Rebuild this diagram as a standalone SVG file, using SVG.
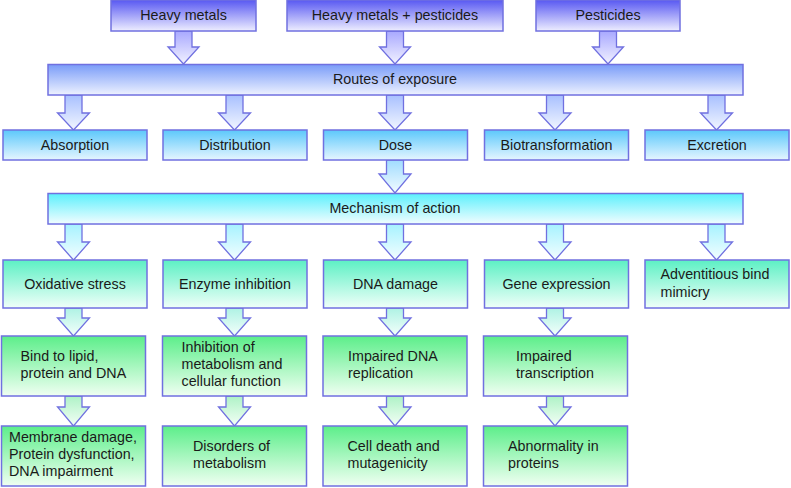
<svg xmlns="http://www.w3.org/2000/svg" width="791" height="488" viewBox="0 0 791 488">
<defs>
<linearGradient id="gBlue" x1="0" y1="0" x2="0" y2="1"><stop offset="0" stop-color="#5858f2"/><stop offset="1" stop-color="#eeeeff"/></linearGradient>
<linearGradient id="gRoute" x1="0" y1="0" x2="0" y2="1"><stop offset="0" stop-color="#7a9cf8"/><stop offset="1" stop-color="#eef2ff"/></linearGradient>
<linearGradient id="gSky" x1="0" y1="0" x2="0" y2="1"><stop offset="0" stop-color="#5cc8fb"/><stop offset="1" stop-color="#e6f6ff"/></linearGradient>
<linearGradient id="gCyan" x1="0" y1="0" x2="0" y2="1"><stop offset="0" stop-color="#5cf0fc"/><stop offset="1" stop-color="#f2fdff"/></linearGradient>
<linearGradient id="gTeal" x1="0" y1="0" x2="0" y2="1"><stop offset="0" stop-color="#5cf0c4"/><stop offset="1" stop-color="#f0fff9"/></linearGradient>
<linearGradient id="gGreen" x1="0" y1="0" x2="0" y2="1"><stop offset="0" stop-color="#5cee8a"/><stop offset="1" stop-color="#f0fff2"/></linearGradient>
<linearGradient id="aBlue" x1="0" y1="0" x2="0" y2="1"><stop offset="0" stop-color="#a8a8ff"/><stop offset="1" stop-color="#f2f2ff"/></linearGradient>
<linearGradient id="aRoute" x1="0" y1="0" x2="0" y2="1"><stop offset="0" stop-color="#a8c0ff"/><stop offset="1" stop-color="#f2f6ff"/></linearGradient>
<linearGradient id="aSky" x1="0" y1="0" x2="0" y2="1"><stop offset="0" stop-color="#a0dcff"/><stop offset="1" stop-color="#f2fbff"/></linearGradient>
<linearGradient id="aCyan" x1="0" y1="0" x2="0" y2="1"><stop offset="0" stop-color="#a6f2ff"/><stop offset="1" stop-color="#f4feff"/></linearGradient>
<linearGradient id="aTeal" x1="0" y1="0" x2="0" y2="1"><stop offset="0" stop-color="#aef2e4"/><stop offset="1" stop-color="#f4fffb"/></linearGradient>
<linearGradient id="aGreen" x1="0" y1="0" x2="0" y2="1"><stop offset="0" stop-color="#aef2c6"/><stop offset="1" stop-color="#f4fff6"/></linearGradient>
</defs>
<style>
rect{stroke:#7070e0;stroke-width:1.5}
polygon{stroke:#7070e0;stroke-width:1.3;stroke-linejoin:miter}
text{font-family:"Liberation Sans",Arial,sans-serif;font-size:14.3px;fill:#1a1a1a}
.c{text-anchor:middle}
</style>
<g id="connectors">
<polygon fill="url(#aBlue)" points="175,31 192,31 192,47 199,47 183.5,64 168,47 175,47"/>
<polygon fill="url(#aBlue)" points="386.5,31 403.5,31 403.5,47 410.5,47 395,64 379.5,47 386.5,47"/>
<polygon fill="url(#aBlue)" points="599.5,31 616.5,31 616.5,47 623.5,47 608,64 592.5,47 599.5,47"/>
<polygon fill="url(#aRoute)" points="65,95 82,95 82,113 89.5,113 73.5,130 57.5,113 65,113"/>
<polygon fill="url(#aRoute)" points="226,95 243,95 243,113 250.5,113 234.5,130 218.5,113 226,113"/>
<polygon fill="url(#aRoute)" points="386.5,95 403.5,95 403.5,113 411,113 395,130 379,113 386.5,113"/>
<polygon fill="url(#aRoute)" points="546.5,95 563.5,95 563.5,113 571,113 555,130 539,113 546.5,113"/>
<polygon fill="url(#aRoute)" points="708,95 725,95 725,113 732.5,113 716.5,130 700.5,113 708,113"/>
<polygon fill="url(#aSky)" points="386.5,160 403.5,160 403.5,174 411,174 395,193 379,174 386.5,174"/>
<polygon fill="url(#aCyan)" points="65,224 82,224 82,242 89.5,242 73.5,260 57.5,242 65,242"/>
<polygon fill="url(#aCyan)" points="226,224 243,224 243,242 250.5,242 234.5,260 218.5,242 226,242"/>
<polygon fill="url(#aCyan)" points="386.5,224 403.5,224 403.5,242 411,242 395,260 379,242 386.5,242"/>
<polygon fill="url(#aCyan)" points="546.5,224 563.5,224 563.5,242 571,242 555,260 539,242 546.5,242"/>
<polygon fill="url(#aCyan)" points="708,224 725,224 725,242 732.5,242 716.5,260 700.5,242 708,242"/>
<polygon fill="url(#aTeal)" points="65,308 82,308 82,318 89.5,318 73.5,336 57.5,318 65,318"/>
<polygon fill="url(#aTeal)" points="226,308 243,308 243,318 250.5,318 234.5,336 218.5,318 226,318"/>
<polygon fill="url(#aTeal)" points="386.5,308 403.5,308 403.5,318 411,318 395,336 379,318 386.5,318"/>
<polygon fill="url(#aTeal)" points="546.5,308 563.5,308 563.5,318 571,318 555,336 539,318 546.5,318"/>
<polygon fill="url(#aGreen)" points="65,396 82,396 82,407 89.5,407 73.5,426 57.5,407 65,407"/>
<polygon fill="url(#aGreen)" points="226,396 243,396 243,407 250.5,407 234.5,426 218.5,407 226,407"/>
<polygon fill="url(#aGreen)" points="386.5,396 403.5,396 403.5,407 411,407 395,426 379,407 386.5,407"/>
<polygon fill="url(#aGreen)" points="546.5,396 563.5,396 563.5,407 571,407 555,426 539,407 546.5,407"/>
</g>
<g id="heavy-metals"><rect x="111" y="0" width="145" height="31" fill="url(#gBlue)"/><text class="c" x="183.5" y="20">Heavy metals</text></g>
<g id="heavy-metals-pesticides"><rect x="287" y="0" width="216" height="31" fill="url(#gBlue)"/><text class="c" x="395" y="20">Heavy metals + pesticides</text></g>
<g id="pesticides"><rect x="536" y="0" width="144" height="31" fill="url(#gBlue)"/><text class="c" x="608" y="20">Pesticides</text></g>
<g id="routes"><rect x="48" y="64.5" width="695" height="30.5" fill="url(#gRoute)"/><text class="c" x="395" y="84">Routes of exposure</text></g>
<g id="absorption"><rect x="3" y="130" width="144" height="30" fill="url(#gSky)"/><text class="c" x="75" y="150">Absorption</text></g>
<g id="distribution"><rect x="163" y="130" width="144" height="30" fill="url(#gSky)"/><text class="c" x="235" y="150">Distribution</text></g>
<g id="dose"><rect x="323.5" y="130" width="144" height="30" fill="url(#gSky)"/><text class="c" x="395.5" y="150">Dose</text></g>
<g id="biotransformation"><rect x="484.5" y="130" width="144" height="30" fill="url(#gSky)"/><text class="c" x="556.5" y="150">Biotransformation</text></g>
<g id="excretion"><rect x="645" y="130" width="144" height="30" fill="url(#gSky)"/><text class="c" x="717" y="150">Excretion</text></g>
<g id="mechanism"><rect x="48" y="193.5" width="695" height="30.5" fill="url(#gCyan)"/><text class="c" x="395" y="213">Mechanism of action</text></g>
<g id="oxidative-stress"><rect x="3" y="260" width="144" height="48" fill="url(#gTeal)"/><text class="c" x="75" y="289">Oxidative stress</text></g>
<g id="enzyme-inhibition"><rect x="163" y="260" width="144" height="48" fill="url(#gTeal)"/><text class="c" x="235" y="289">Enzyme inhibition</text></g>
<g id="dna-damage"><rect x="323.5" y="260" width="144" height="48" fill="url(#gTeal)"/><text class="c" x="395.5" y="289">DNA damage</text></g>
<g id="gene-expression"><rect x="484.5" y="260" width="144" height="48" fill="url(#gTeal)"/><text class="c" x="556.5" y="289">Gene expression</text></g>
<g id="adventitious"><rect x="645" y="260" width="144" height="48" fill="url(#gTeal)"/><text x="660.5" y="279">Adventitious bind</text><text x="660.5" y="297">mimicry</text></g>
<g id="bind-lipid"><rect x="1.5" y="336" width="144" height="60" fill="url(#gGreen)"/><text x="20.5" y="361">Bind to lipid,</text><text x="20.5" y="378">protein and DNA</text></g>
<g id="inhibition-metabolism"><rect x="162.5" y="336" width="144" height="60" fill="url(#gGreen)"/><text x="181.5" y="352">Inhibition of</text><text x="181.5" y="369">metabolism and</text><text x="181.5" y="386">cellular function</text></g>
<g id="impaired-dna"><rect x="323" y="336" width="144" height="60" fill="url(#gGreen)"/><text x="348" y="361">Impaired DNA</text><text x="348" y="378">replication</text></g>
<g id="impaired-transcription"><rect x="483.5" y="336" width="144" height="60" fill="url(#gGreen)"/><text x="516" y="361">Impaired</text><text x="516" y="378">transcription</text></g>
<g id="membrane-damage"><rect x="1.5" y="426" width="144" height="60" fill="url(#gGreen)"/><text x="9" y="442">Membrane damage,</text><text x="9" y="459">Protein dysfunction,</text><text x="9" y="476">DNA impairment</text></g>
<g id="disorders-metabolism"><rect x="162.5" y="426" width="144" height="60" fill="url(#gGreen)"/><text x="193" y="451">Disorders of</text><text x="193" y="468">metabolism</text></g>
<g id="cell-death"><rect x="323" y="426" width="144" height="60" fill="url(#gGreen)"/><text x="347.5" y="451">Cell death and</text><text x="347.5" y="468">mutagenicity</text></g>
<g id="abnormality-proteins"><rect x="483.5" y="426" width="144" height="60" fill="url(#gGreen)"/><text x="508" y="451">Abnormality in</text><text x="508" y="468">proteins</text></g>
</svg>
